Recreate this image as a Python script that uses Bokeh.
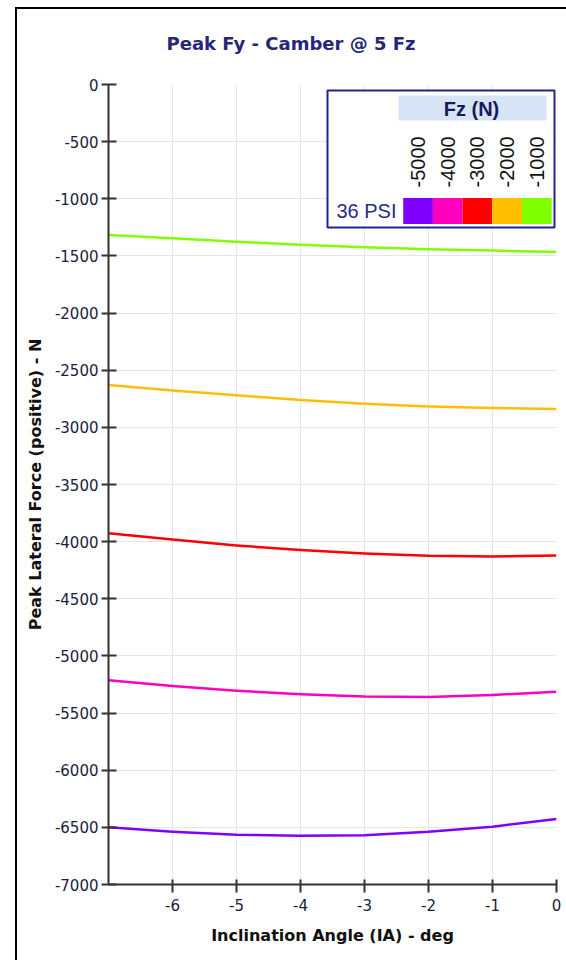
from bokeh.plotting import figure
from bokeh.models import Range1d, FixedTicker, Label, BoxAnnotation, PrintfTickFormatter
from bokeh.embed import file_html
from bokeh.resources import INLINE

# ---------------- data ----------------
ia_deg = [-7, -6, -5, -4, -3, -2, -1, 0]
fz_levels = ["-5000", "-4000", "-3000", "-2000", "-1000"]
fz_colors = ["#8000ff", "#ff00bf", "#ff0000", "#ffbf00", "#80ff00"]
peak_fy_fz5000 = [-6500, -6538, -6565, -6573, -6568, -6538, -6494, -6426]
peak_fy_fz4000 = [-5213, -5264, -5305, -5336, -5356, -5359, -5342, -5313]
peak_fy_fz3000 = [-3926, -3982, -4033, -4074, -4104, -4124, -4130, -4121]
peak_fy_fz2000 = [-2630, -2678, -2719, -2760, -2793, -2817, -2831, -2840]
peak_fy_fz1000 = [-1317, -1346, -1376, -1402, -1423, -1441, -1453, -1465]
series = [peak_fy_fz5000, peak_fy_fz4000, peak_fy_fz3000, peak_fy_fz2000, peak_fy_fz1000]
pressure_label = "36 PSI"
x_ticks = [-6, -5, -4, -3, -2, -1, 0]
y_ticks = list(range(-7000, 1, 500))
title_text = "Peak Fy  - Camber @ 5 Fz"
legend_title = "Fz (N)"

# ---------------- figure ----------------
p = figure(width=566, height=960,
           x_range=Range1d(-7, 0), y_range=Range1d(-7000, 0),
           output_backend="svg", toolbar_location=None,
           min_border_left=108, min_border_right=10,
           min_border_top=83, min_border_bottom=76)
# chart frame lines (left and top) drawn as element background behind a transparent canvas
p.styles = {"background": "linear-gradient(#000, #000) 15px 7px / 2px 100% no-repeat, "
                          "linear-gradient(#000, #000) 15px 7px / 100% 2px no-repeat, #ffffff"}
p.outline_line_color = None
p.background_fill_color = "white"
p.border_fill_color = None

p.title.text = title_text
p.title.align = "left"
p.title.offset = 58
p.title.standoff = 61
p.title.text_font = "DejaVu Sans"
p.title.text_font_style = "bold"
p.title.text_font_size = "18px"
p.title.text_color = "#26267a"

for s, c in zip(series, fz_colors):
    p.line(ia_deg, s, line_color=c, line_width=2.5, line_join="round")

# axes
p.xaxis.ticker = FixedTicker(ticks=x_ticks)
p.yaxis.ticker = FixedTicker(ticks=y_ticks)
p.xgrid.ticker = FixedTicker(ticks=x_ticks)
p.ygrid.ticker = FixedTicker(ticks=y_ticks)
p.grid.grid_line_color = "#e6e6e6"
p.grid.grid_line_width = 1

for ax in (p.xaxis[0], p.yaxis[0]):
    ax.formatter = PrintfTickFormatter(format="%d")
    ax.axis_line_color = "#333333"
    ax.axis_line_width = 2
    ax.major_tick_line_color = "#333333"
    ax.major_tick_line_width = 2
    ax.minor_tick_line_color = None
    ax.major_label_text_font = "DejaVu Sans"
    ax.major_label_text_font_size = "15px"
    ax.major_label_text_color = "#1c1c3c"
    ax.axis_label_text_font = "DejaVu Sans"
    ax.axis_label_text_font_style = "bold"
    ax.axis_label_text_font_size = "16px"
    ax.axis_label_text_color = "#111111"

p.xaxis.major_tick_in = 5
p.xaxis.major_tick_out = 8
p.xaxis.major_label_standoff = 6
p.xaxis.axis_label = "Inclination Angle (IA) - deg"
p.xaxis.axis_label_standoff = 12

p.yaxis.major_tick_in = 8
p.yaxis.major_tick_out = 7
p.yaxis.major_label_standoff = 3
p.yaxis.axis_label = "Peak Lateral Force (positive) - N"
p.yaxis.axis_label_standoff = 7

# ------------- legend (screen units relative to frame bottom-left) -------------
FRAME_L, FRAME_B = 108, 884  # page coordinates of frame bottom-left


def sx(px):
    return px - FRAME_L


def sy(py):
    return FRAME_B - py


def scr_box(l, r, t, b, **kw):
    return BoxAnnotation(left=sx(l), right=sx(r), top=sy(t), bottom=sy(b),
                         left_units="screen", right_units="screen",
                         top_units="screen", bottom_units="screen", **kw)


p.add_layout(scr_box(327, 554, 90, 227, fill_color="white", fill_alpha=1,
                     line_color="#23238e", line_alpha=1, line_width=2))
p.add_layout(scr_box(398, 546, 95, 120, fill_color="#d6e4f6", fill_alpha=1,
                     line_color=None))
p.add_layout(Label(x=sx(471), y=sy(108), x_units="screen", y_units="screen",
                   text=legend_title, text_align="center", text_baseline="middle",
                   text_font="Liberation Sans", text_font_style="bold",
                   text_font_size="20px", text_color="#1a1a5a"))

col_w = 29.7
for i, (lab, c) in enumerate(zip(fz_levels, fz_colors)):
    left = 402.7 + i * col_w
    p.add_layout(scr_box(left, left + col_w, 197.5, 223.5, fill_color=c,
                         fill_alpha=1, line_color=None))
    p.add_layout(Label(x=sx(left + col_w / 2), y=sy(187), x_units="screen",
                       y_units="screen", text=lab, angle=1.5708,
                       text_align="left", text_baseline="middle",
                       text_font="Liberation Sans", text_font_size="20px",
                       text_color="#111111"))

p.add_layout(Label(x=sx(396), y=sy(210), x_units="screen", y_units="screen",
                   text=pressure_label, text_align="right", text_baseline="middle",
                   text_font="Liberation Sans", text_font_size="20px",
                   text_color="#2a2a8a"))

open("out.html", "w").write(file_html(p, INLINE))
